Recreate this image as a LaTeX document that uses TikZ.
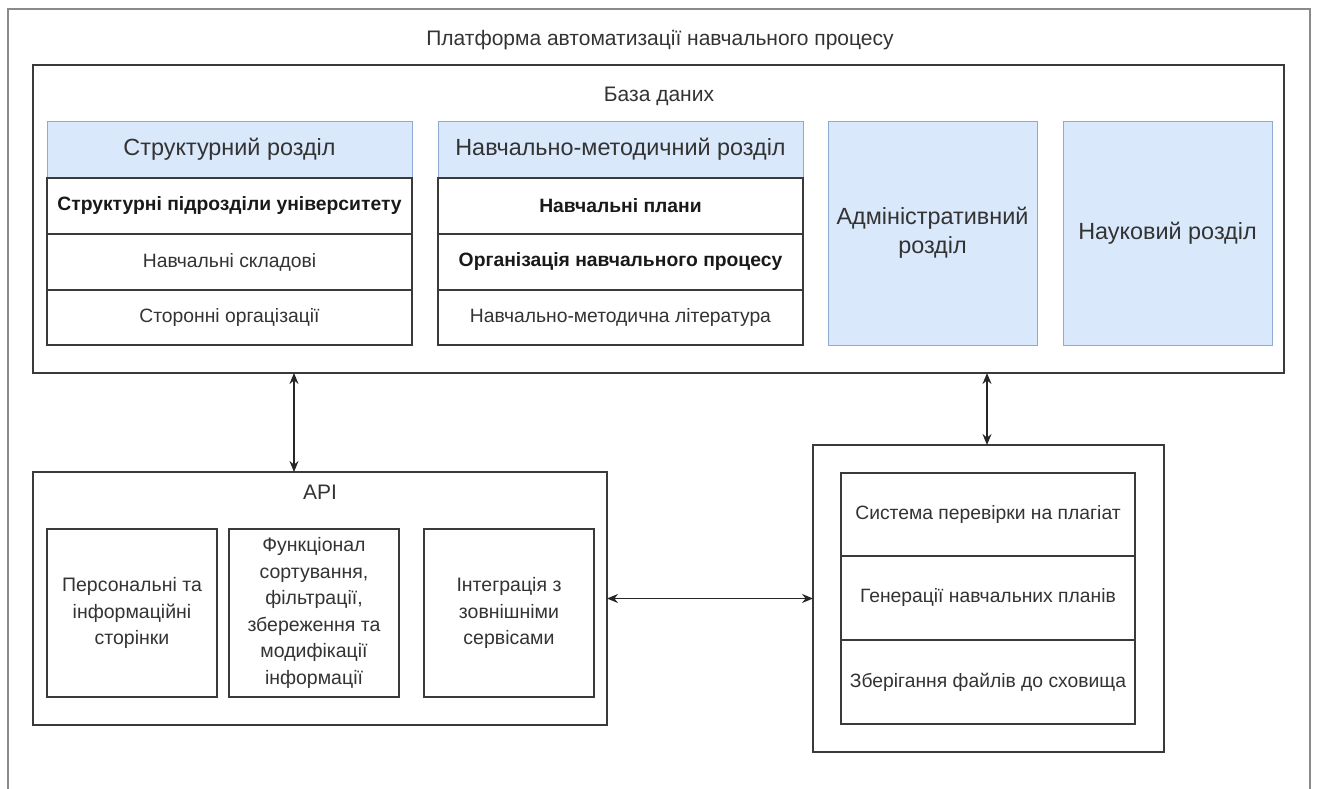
\documentclass[tikz,border=0pt]{standalone}
\usepackage{fontspec}
\setmainfont{Liberation Sans}
\usetikzlibrary{arrows.meta,calc}

\definecolor{ink}{HTML}{333333}
\definecolor{edge}{HTML}{3A3A3A}
\definecolor{framegray}{HTML}{8A8A8A}
\definecolor{headfill}{HTML}{DAE8FC}
\definecolor{headedge}{HTML}{8EA9D3}

\tikzset{
  every node/.style={text=ink, font=\fontsize{19.3}{23}\selectfont},
  cell/.style={draw=edge, line width=1.3pt, fill=white, anchor=north west,
    inner sep=0pt, outer sep=0pt, align=center},
  container/.style={draw=edge, line width=1.3pt, fill=white, anchor=north west,
    inner sep=0pt, outer sep=0pt},
  header/.style={draw=headedge, line width=0.9pt, fill=headfill, anchor=north west,
    inner sep=0pt, outer sep=0pt, align=center,
    font=\fontsize{23.4}{29}\selectfont},
  apitext/.style={font=\fontsize{19.5}{26.5}\selectfont},
  boldrow/.style={font=\fontsize{19.3}{23}\selectfont\bfseries, text=black!90},
  caption/.style={font=\fontsize{21}{25}\selectfont},
  conn/.style={draw=black!85, line width=1.6pt,
    {Stealth[length=11pt,width=9pt]}-{Stealth[length=11pt,width=9pt]}},
  platform/.style={draw=framegray, line width=1.8pt}
}

\begin{document}
\begin{tikzpicture}[x=1pt,y=-1pt]
  \useasboundingbox (0,0) rectangle (1317,789);

  % platform frame, open at the bottom
  \draw[platform] (8,789) -- (8,9) -- (1310,9) -- (1310,789);
  \node[caption] (platformtitle) at (660,40) {Платформа автоматизації навчального процесу};

  % database
  \node[container, minimum width=1251pt, minimum height=308pt] (db) at (33,65) {};
  \node[caption] (dbtitle) at (659,96) {База даних};

  % structural section
  \node[header, minimum width=365pt, minimum height=57pt] (shead) at (47,121) {Структурний розділ};
  \node[cell, minimum width=365pt, minimum height=56pt, boldrow] (srow1) at (47,178) {Структурні підрозділи університету};
  \node[cell, minimum width=365pt, minimum height=56pt] (srow2) at (47,234) {Навчальні складові};
  \node[cell, minimum width=365pt, minimum height=55pt] (srow3) at (47,290) {Сторонні оргацізації};

  % educational-methodical section
  \node[header, minimum width=365pt, minimum height=57pt] (mhead) at (438,121) {Навчально-методичний розділ};
  \node[cell, minimum width=365pt, minimum height=56pt, boldrow] (mrow1) at (438,178) {Навчальні плани};
  \node[cell, minimum width=365pt, minimum height=56pt, boldrow] (mrow2) at (438,234) {Організація навчального процесу};
  \node[cell, minimum width=365pt, minimum height=55pt] (mrow3) at (438,290) {Навчально-методична література};

  % administrative and scientific sections
  \node[header, minimum width=209pt, minimum height=224pt] (adm) at (828,121) {Адміністративний\\розділ};
  \node[header, minimum width=209pt, minimum height=224pt] (sci) at (1063,121) {Науковий розділ};

  % API
  \node[container, minimum width=574pt, minimum height=253pt] (api) at (33,472) {};
  \node[caption] (apititle) at (320,492) {API};
  \node[cell, minimum width=170pt, minimum height=168pt, apitext] (pages) at (47,529)
    {Персональні та\\інформаційні\\сторінки};
  \node[cell, minimum width=170pt, minimum height=168pt, apitext] (funcs) at (229,529)
    {Функціонал\\сортування,\\фільтрації,\\збереження та\\модифікації\\інформації};
  \node[cell, minimum width=170pt, minimum height=168pt, apitext] (integr) at (424,529)
    {Інтеграція з\\зовнішніми\\сервісами};

  % external services
  \node[container, minimum width=351pt, minimum height=307pt] (svc) at (813,445) {};
  \node[cell, minimum width=294pt, minimum height=83pt] (plag) at (841,473) {Система перевірки на плагіат};
  \node[cell, minimum width=294pt, minimum height=84pt] (plans) at (841,556) {Генерації навчальних планів};
  \node[cell, minimum width=294pt, minimum height=84pt] (store) at (841,640) {Зберігання файлів до сховища};

  % connectors
  \coordinate (guideA) at (294,0);
  \coordinate (guideB) at (987,0);
  \draw[conn] (guideA |- db.south) -- (guideA |- api.north);
  \draw[conn] (guideB |- db.south) -- (guideB |- svc.north);
  \draw[conn] (api.east) -- (svc.west);
\end{tikzpicture}
\end{document}
